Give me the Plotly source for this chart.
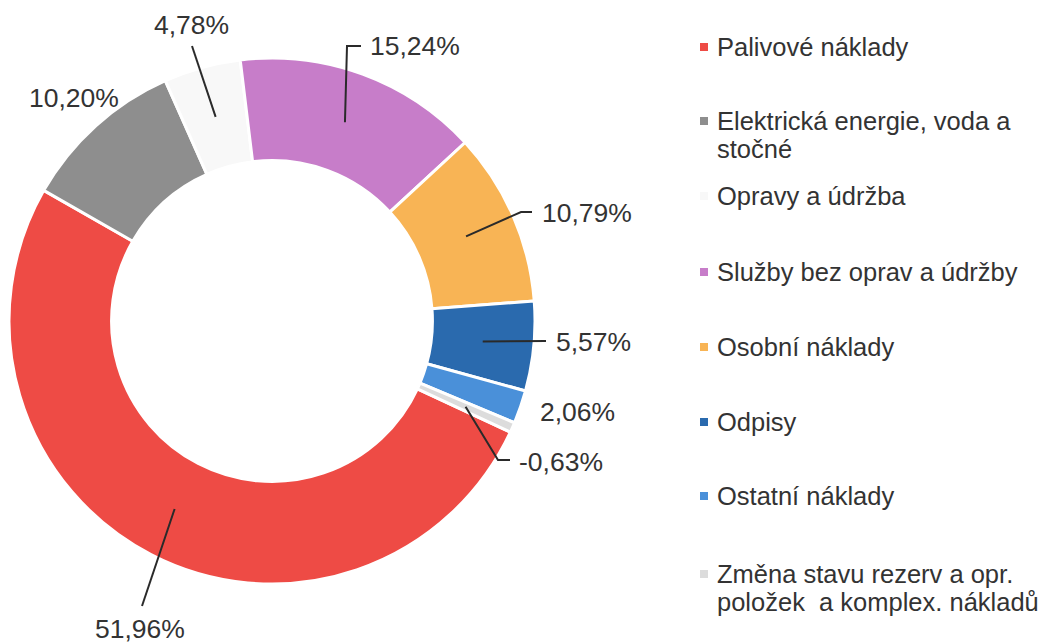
import math
import plotly.graph_objects as go

# ---- data ----
categories = [
    "Palivové náklady",
    "Elektrická energie, voda a stočné",
    "Opravy a údržba",
    "Služby bez oprav a údržby",
    "Osobní náklady",
    "Odpisy",
    "Ostatní náklady",
    "Změna stavu rezerv a opr. položek  a komplex. nákladů",
]
values = [51.96, 10.20, 4.78, 15.24, 10.79, 5.57, 2.06, -0.63]
legend_lines = [
    ["Palivové náklady"],
    ["Elektrická energie, voda a", "stočné"],
    ["Opravy a údržba"],
    ["Služby bez oprav a údržby"],
    ["Osobní náklady"],
    ["Odpisy"],
    ["Ostatní náklady"],
    ["Změna stavu rezerv a opr.", "položek&nbsp; a komplex. nákladů"],
]

# ---- styling / layout ----
colors = ["#EE4B45", "#8E8E8E", "#F8F8F8", "#C77DC9", "#F8B455", "#2A6AAE", "#4A90D9", "#DCDCDC"]
OFF = 8                      # page body margin
W, H = 1049 - OFF, 643 - OFF
cx, cy, r_out, hole = 272, 321, 263, 0.61
rotation = 115
FONT = "Liberation Sans, Arial, sans-serif"
TXT = "#333333"
FS = 26.5
FS_LEG = 25.5

# label placement (page pixels): text center, and leader line points after the slice tip
label_layout = [
    dict(text=(140, 629), path=[(142, 606)]),
    dict(text=(74, 98), path=None),
    dict(text=(191, 25), path=[(192, 46)]),
    dict(text=(415, 46), path=[(347, 46), (361, 46)]),
    dict(text=(587, 213), path=[(521, 212), (532, 212)]),
    dict(text=(593, 342), path=[(546, 341)]),
    dict(text=(577, 412), path=None),
    dict(text=(561, 462), path=[(498, 460), (510, 460)]),
]
legend_first_y = [47, 121, 196, 272, 347, 422, 496, 574]
legend_line_gap = 28
legend_text_x = 715
legend_marker_x = 704


def px2paper(x, y):
    return (x - OFF) / W, 1 - (y - OFF) / H


abs_vals = [abs(v) for v in values]
total = sum(abs_vals)

dx0, dy1 = px2paper(cx - r_out, cy - r_out)
dx1, dy0 = px2paper(cx + r_out, cy + r_out)

fig = go.Figure(go.Pie(
    labels=categories,
    values=abs_vals,
    sort=False,
    direction="clockwise",
    rotation=rotation,
    hole=hole,
    marker=dict(colors=colors, line=dict(color="white", width=3)),
    textinfo="none",
    hoverinfo="skip",
    showlegend=False,
    domain=dict(x=[dx0, dx1], y=[dy0, dy1]),
))

annotations = []
shapes = []
r_mid = r_out * (1 + hole) / 2
cum = 0.0
for i, v in enumerate(values):
    a = math.radians(rotation + 360 * (cum + abs_vals[i] / 2) / total)
    cum += abs_vals[i]
    tip = (cx + r_mid * math.sin(a), cy - r_mid * math.cos(a))
    lay = label_layout[i]
    label = f"{v:.2f}".replace(".", ",") + "%"
    tx, ty = px2paper(*lay["text"])
    annotations.append(dict(x=tx, y=ty, xref="paper", yref="paper", text=label,
                            showarrow=False, xanchor="center", yanchor="middle",
                            font=dict(family=FONT, size=FS, color=TXT)))
    if lay["path"]:
        pts = [tip] + lay["path"]
        p = [px2paper(*q) for q in pts]
        d = "M " + " L ".join(f"{x:.5f},{y:.5f}" for x, y in p)
        shapes.append(dict(type="path", xref="paper", yref="paper", path=d,
                           line=dict(color="#2a2a2a", width=2)))

# legend (manual)
for i, lines in enumerate(legend_lines):
    y0 = legend_first_y[i]
    mx0, my0 = px2paper(legend_marker_x - 4, y0 - 4)
    mx1, my1 = px2paper(legend_marker_x + 4, y0 + 4)
    shapes.append(dict(type="rect", xref="paper", yref="paper", x0=mx0, x1=mx1,
                       y0=my1, y1=my0, fillcolor=colors[i], line=dict(width=0)))
    for j, ln in enumerate(lines):
        lx, ly = px2paper(legend_text_x, y0 + j * legend_line_gap)
        annotations.append(dict(x=lx, y=ly, xref="paper", yref="paper", text=ln,
                                showarrow=False, xanchor="left", yanchor="middle",
                                font=dict(family=FONT, size=FS_LEG, color=TXT)))

fig.update_layout(
    width=W, height=H,
    margin=dict(l=0, r=0, t=0, b=0),
    paper_bgcolor="white", plot_bgcolor="white",
    annotations=annotations,
    shapes=shapes,
    showlegend=False,
)

fig.write_html("out.html")
